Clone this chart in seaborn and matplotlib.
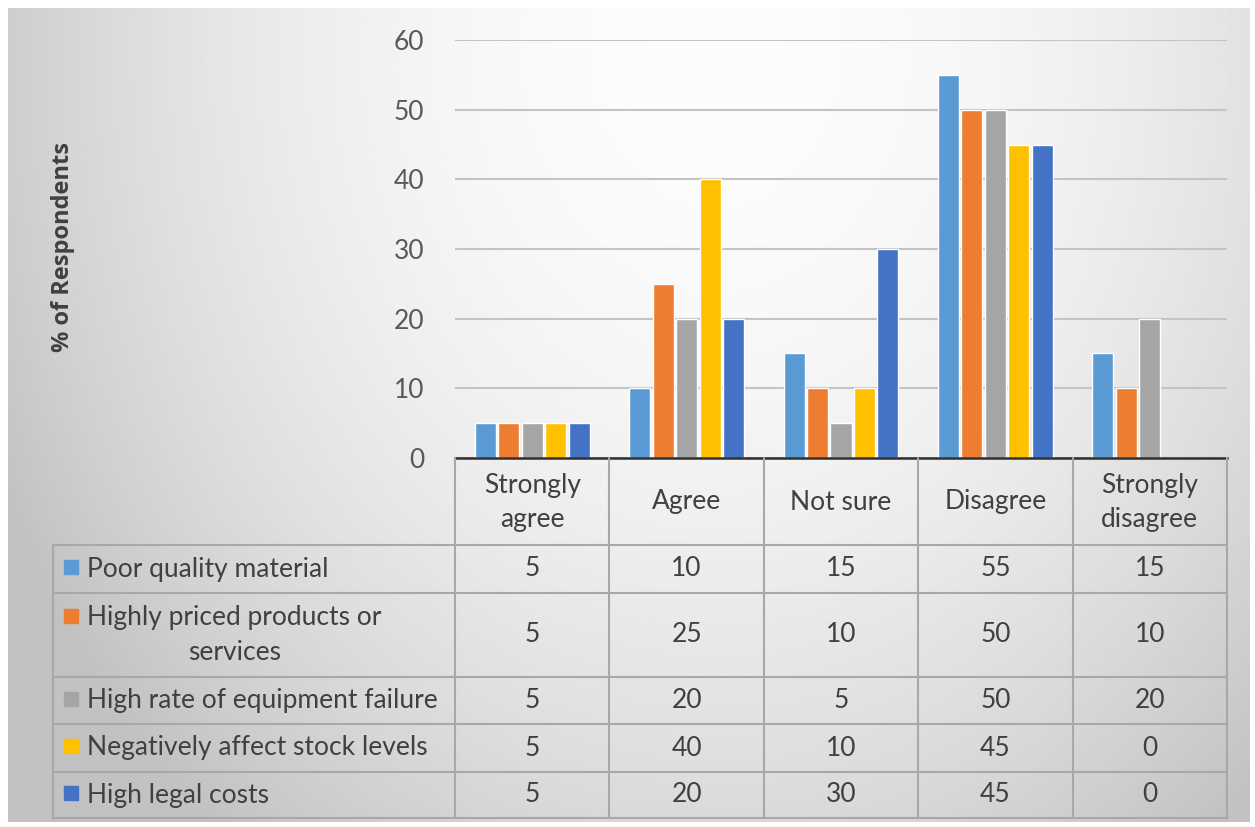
import numpy as np
import pandas as pd
import matplotlib
matplotlib.use("Agg")
import matplotlib.pyplot as plt
import seaborn as sns

# ── DATA ─────────────────────────────────────────────────────
categories = ["Strongly agree", "Agree", "Not sure", "Disagree", "Strongly disagree"]
header_labels = ["Strongly\nagree", "Agree", "Not sure", "Disagree", "Strongly\ndisagree"]
series = [
    "Poor quality material",
    "Highly priced products or services",
    "High rate of equipment failure",
    "Negatively affect stock levels",
    "High legal costs",
]
row_labels = [
    "Poor quality material",
    "Highly priced products or\nservices",
    "High rate of equipment failure",
    "Negatively affect stock levels",
    "High legal costs",
]
poor_quality = [5, 10, 15, 55, 15]
highly_priced = [5, 25, 10, 50, 10]
equipment_failure = [5, 20, 5, 50, 20]
stock_levels = [5, 40, 10, 45, 0]
legal_costs = [5, 20, 30, 45, 0]
colors = ["#5B9BD5", "#ED7D31", "#A5A5A5", "#FFC000", "#4472C4"]

values = [poor_quality, highly_priced, equipment_failure, stock_levels, legal_costs]
df = pd.DataFrame(
    [(s, c, v) for s, vals in zip(series, values) for c, v in zip(categories, vals)],
    columns=["series", "category", "value"],
)

# ── SETUP ────────────────────────────────────────────────────
sns.set_style("white")
plt.rcParams["font.family"] = ["Lato", "DejaVu Sans"]
text_col = "#404040"

W, H = 1255, 827
fig = plt.figure(figsize=(W / 100, H / 100), dpi=100)


def px_box(x0, y0, x1, y1):
    # pixel box (top-left origin) -> figure fraction rect
    return [x0 / W, 1 - y1 / H, (x1 - x0) / W, (y1 - y0) / H]


# gradient background of the chart area
bg = fig.add_axes(px_box(8, 8, 1250, 822), zorder=-5)
gx, gy = np.meshgrid(np.linspace(0, 1, 400), np.linspace(0, 1, 300))
d = np.sqrt(((gx - 0.57) / 0.6) ** 2 + ((gy - 0.05) / 1.15) ** 2)
shade = np.clip(0.99 - 0.2 * d ** 2, 0.76, 1.0)
bg.imshow(shade, cmap="gray", vmin=0, vmax=1, aspect="auto",
          extent=[0, 1, 1, 0], interpolation="bilinear")
bg.set_axis_off()

# ── BAR CHART ────────────────────────────────────────────────
ax = fig.add_axes(px_box(455, 40, 1227, 458))
ax.patch.set_alpha(0)
sns.barplot(data=df, x="category", y="value", hue="series", order=categories,
            hue_order=series, palette=colors, width=0.76, gap=0.1,
            saturation=1, ax=ax, legend=False, zorder=3)
ax.set_xlim(-0.5, 4.5)
ax.set_ylim(0, 60)
ax.set_yticks(range(0, 61, 10))
ax.tick_params(axis="y", length=0, pad=22, labelsize=19, labelcolor="#595959")
ax.set_xticks([])
ax.set_xlabel("")
ax.set_ylabel("")
ax.grid(axis="y", color="#c4c4c4", linewidth=1.5, zorder=0)
for side in ["top", "right", "left"]:
    ax.spines[side].set_visible(False)
ax.spines["bottom"].set_color("#303030")
ax.spines["bottom"].set_linewidth(1.8)
ax.spines["bottom"].set_zorder(5)

fig.text(63 / W, 1 - 247 / H, "% of Respondents", rotation=90, ha="center",
         va="center", fontsize=17, fontweight="bold", color=text_col,
         family=["Open Sans", "DejaVu Sans"])

# ── DATA TABLE ───────────────────────────────────────────────
tab = fig.add_axes(px_box(53, 458, 1227, 818))
tab.patch.set_alpha(0)
left = -0.5 - 402 * 5 / 772
tab.set_xlim(left, 4.5)
tab.set_ylim(818, 458)
tab.set_axis_off()

line_col = "#a8a8a8"
row_edges = [545, 593, 677, 724, 772, 818]
for y in row_edges:
    tab.plot([left, 4.5], [y, y], color=line_col, lw=1.5, clip_on=False)
for x in [-0.5, 0.5, 1.5, 2.5, 3.5, 4.5]:
    tab.plot([x, x], [458, 818], color=line_col, lw=1.5, clip_on=False)
tab.plot([left, left], [545, 818], color=line_col, lw=1.5, clip_on=False)

fs = 19
for i, lab in enumerate(header_labels):
    tab.text(i, 502, lab, ha="center", va="center", fontsize=fs,
             color=text_col, linespacing=1.45)

label_x = left + (87 - 53) * 5 / 772
box_x = left + (71 - 53) * 5 / 772
for r, (lab, col, vals) in enumerate(zip(row_labels, colors, values)):
    y0, y1 = row_edges[r], row_edges[r + 1]
    yc = (y0 + y1) / 2
    n_lines = lab.count("\n") + 1
    box_y = yc - (n_lines - 1) * 17
    tab.scatter([box_x], [box_y - 2], marker="s", s=100, color=col, zorder=4)
    tab.text(label_x, yc, lab, ha="left", va="center", fontsize=fs,
             color=text_col, multialignment="center", linespacing=1.45)
    for i, v in enumerate(vals):
        tab.text(i, yc, str(v), ha="center", va="center", fontsize=fs,
                 color=text_col)

plt.savefig("out.png", dpi=100)
